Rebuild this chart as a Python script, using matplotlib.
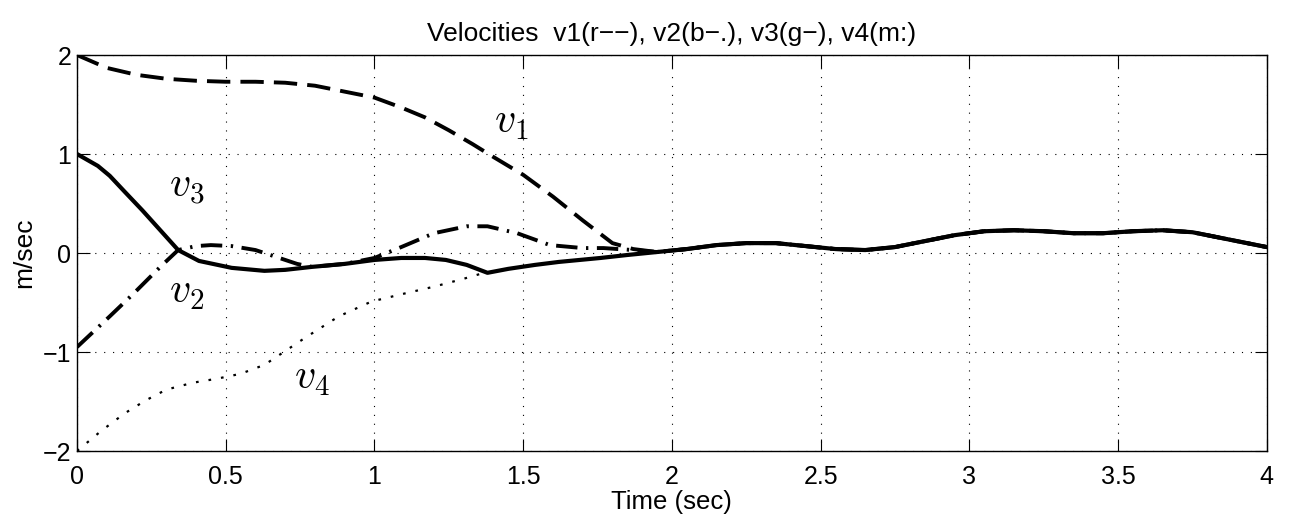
import matplotlib
matplotlib.use("Agg")
import matplotlib.pyplot as plt

# shared tail (all four velocities coincide after ~1.95 s)
tail_t = [1.95, 2.05, 2.15, 2.25, 2.35, 2.45, 2.55, 2.65, 2.75, 2.85, 2.95,
          3.05, 3.15, 3.25, 3.35, 3.45, 3.55, 3.65, 3.75, 3.85, 3.95, 4.0]
tail_v = [0.01, 0.04, 0.08, 0.10, 0.10, 0.07, 0.04, 0.03, 0.06, 0.12, 0.18,
          0.22, 0.23, 0.22, 0.20, 0.20, 0.22, 0.23, 0.21, 0.15, 0.09, 0.06]

# v1 (dashed)
v1_t = [0, 0.1, 0.2, 0.3, 0.4, 0.5, 0.6, 0.7, 0.8, 0.9, 1.0, 1.09, 1.17, 1.25,
        1.33, 1.4, 1.5, 1.6, 1.7, 1.8, 1.87]
v1_v = [2.0, 1.87, 1.80, 1.76, 1.74, 1.73, 1.73, 1.72, 1.69, 1.63, 1.57, 1.47,
        1.37, 1.24, 1.10, 0.97, 0.79, 0.57, 0.33, 0.10, 0.04]

# v2 (dash-dot)
v2_t = [0, 0.11, 0.19, 0.28, 0.34, 0.40, 0.45, 0.52, 0.60, 0.67, 0.74, 0.79,
        0.9, 1.0, 1.09, 1.2, 1.31, 1.38, 1.48, 1.59, 1.7, 1.77, 1.87]
v2_v = [-0.95, -0.64, -0.41, -0.14, 0.03, 0.07, 0.08, 0.07, 0.03, -0.04, -0.11,
        -0.14, -0.11, -0.05, 0.06, 0.20, 0.27, 0.27, 0.20, 0.08, 0.05, 0.05, 0.03]

# v3 (solid)
v3_t = [0, 0.07, 0.11, 0.16, 0.22, 0.28, 0.34, 0.41, 0.52, 0.63, 0.70, 0.79,
        0.9, 1.0, 1.09, 1.17, 1.24, 1.31, 1.38, 1.45, 1.54, 1.62, 1.69, 1.76, 1.85]
v3_v = [1.0, 0.88, 0.78, 0.62, 0.43, 0.23, 0.03, -0.08, -0.15, -0.18, -0.17,
        -0.14, -0.11, -0.07, -0.05, -0.05, -0.07, -0.12, -0.20, -0.16, -0.12,
        -0.09, -0.07, -0.05, -0.02]

# v4 (dotted)
v4_t = [0, 0.08, 0.16, 0.23, 0.30, 0.39, 0.47, 0.55, 0.63, 0.69, 0.77, 0.88,
        0.99, 1.1, 1.2, 1.3, 1.38]
v4_v = [-2.0, -1.8, -1.62, -1.49, -1.38, -1.31, -1.27, -1.22, -1.13, -1.01,
        -0.85, -0.64, -0.49, -0.41, -0.34, -0.26, -0.19]

x_ticks = [0, 0.5, 1, 1.5, 2, 2.5, 3, 3.5, 4]
x_labels = ["0", "0.5", "1", "1.5", "2", "2.5", "3", "3.5", "4"]
y_ticks = [-2, -1, 0, 1, 2]
y_labels = ["\u22122", "\u22121", "0", "1", "2"]

plt.rcParams['font.family'] = ['Liberation Sans', 'DejaVu Sans']
plt.rcParams['mathtext.fontset'] = 'cm'

fig = plt.figure(figsize=(12.9, 5.22), dpi=100)
ax = fig.add_axes([0.0597, 0.136, 0.9223, 0.7586])

lw = 2.8
ax.plot(v1_t + tail_t, v1_v + tail_v, color='black', lw=lw, dashes=[6, 2.6])
ax.plot(v2_t + tail_t, v2_v + tail_v, color='black', lw=lw, dashes=[5.5, 2.2, 0.6, 2.2])
ax.plot(v4_t + v3_t[18:] + tail_t, v4_v + v3_v[18:] + tail_v, color='black',
        lw=1.6, dashes=[1.2, 4.5])
ax.plot(v3_t + tail_t, v3_v + tail_v, color='black', lw=3.0)

ax.text(1.46, 1.32, r'$v_1$', fontsize=30, ha='center', va='center')
ax.text(0.37, 0.67, r'$v_3$', fontsize=30, ha='center', va='center')
ax.text(0.37, -0.39, r'$v_2$', fontsize=30, ha='center', va='center')
ax.text(0.79, -1.26, r'$v_4$', fontsize=30, ha='center', va='center')

ax.set_xlim(0, 4)
ax.set_ylim(-2, 2)
ax.set_xticks(x_ticks)
ax.set_xticklabels(x_labels)
ax.set_yticks(y_ticks)
ax.set_yticklabels(y_labels)
ax.tick_params(direction='in', length=9, width=0.8, top=True, right=True,
               labelsize=18)
ax.tick_params(axis='x', pad=10)
ax.tick_params(axis='y', pad=4)
ax.grid(True, color='black', linestyle=(0, (1, 7)), linewidth=0.8)
for s in ax.spines.values():
    s.set_linewidth(1.0)

ax.set_title("Velocities  v1(r\u2212\u2212), v2(b\u2212.), v3(g\u2212), v4(m:)",
             fontsize=19, pad=10)
ax.set_xlabel("Time (sec)", fontsize=18.5, labelpad=1)
ax.set_ylabel("m/sec", fontsize=19, labelpad=5)

fig.savefig("out.png", dpi=100)
